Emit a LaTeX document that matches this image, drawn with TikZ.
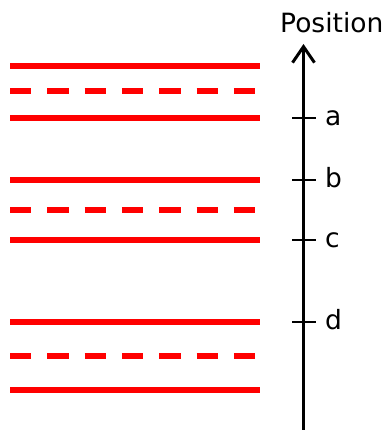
\documentclass[tikz,border=0pt]{standalone}
\usepackage{fontspec}
\setmainfont{DejaVu Sans}
\usetikzlibrary{arrows.meta}
\begin{document}
\begin{tikzpicture}[x=1pt,y=-1pt,
  solidline/.style={draw=red,line width=5.6pt},
  dashline/.style={draw=red,line width=5.6pt,dash pattern=on 21.4pt off 15.93pt},
  axis/.style={draw=black,line width=3pt},
  tickline/.style={draw=black,line width=2.6pt},
  lbl/.style={font=\fontsize{26.5}{26.5}\selectfont,inner sep=0pt,anchor=base west}]
\useasboundingbox (0,0) rectangle (385,430);
% layered lines
\foreach \y in {66,118,180,240,322,390}{\draw[solidline] (10,\y) -- (260,\y);}
\foreach \y in {91,210,356}{\draw[dashline] (10,\y) -- (255.7,\y);}
% axis
\coordinate (bot) at (303.5,430);
\coordinate (top) at (303.5,44);
\draw[axis,-{Straight Barb[length=16pt,width=22pt,line width=3pt]}] (bot) -- (top);
\node[lbl] (pos) at (280,33) {Position};
\foreach \y/\t in {118/a,180/b,240/c,322/d}{
  \draw[tickline] (292,\y) -- (316,\y);
  \node[lbl] (l\t) at (325,\y+7.5) {\t};
}
\end{tikzpicture}
\end{document}
